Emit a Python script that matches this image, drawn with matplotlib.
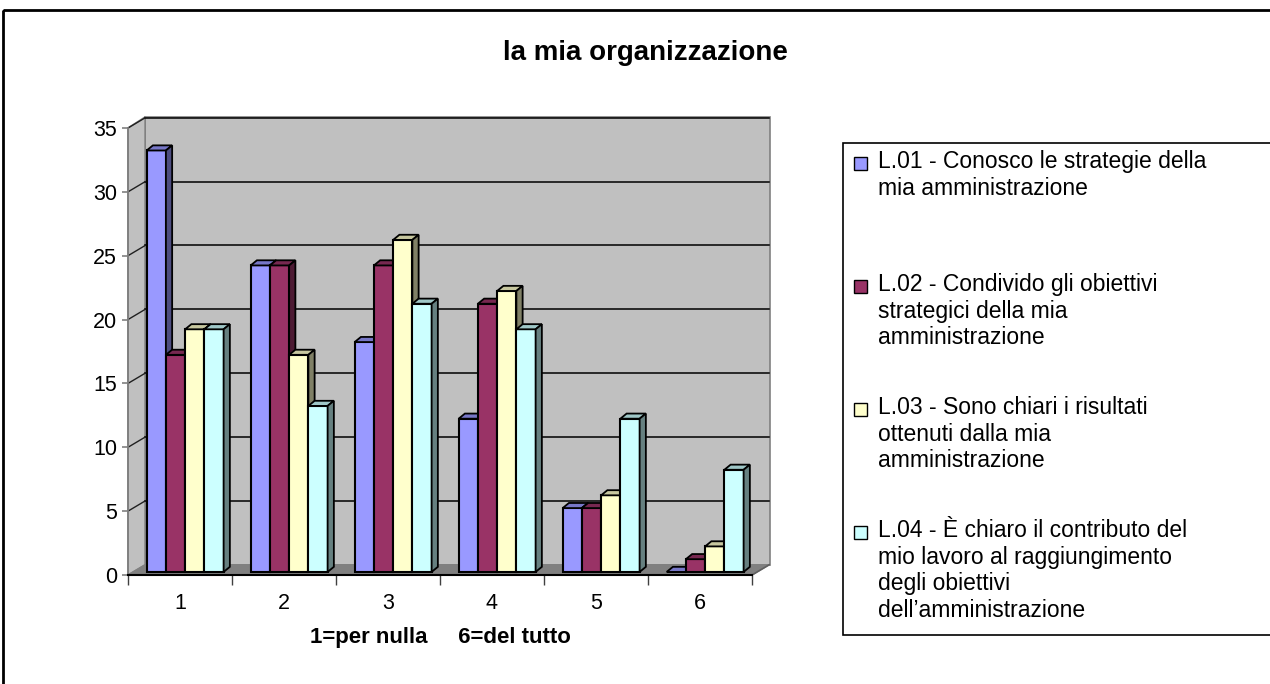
import numpy as np
import matplotlib.pyplot as plt
from matplotlib.patches import Polygon, Rectangle

plt.rcParams['font.family'] = ['Liberation Sans', 'DejaVu Sans']

# --------------------------------------------------
# Data
# --------------------------------------------------
categories = ["1", "2", "3", "4", "5", "6"]
series_names = [
    "L.01 - Conosco le strategie della\nmia amministrazione",
    "L.02 - Condivido gli obiettivi\nstrategici della mia\namministrazione",
    "L.03 - Sono chiari i risultati\nottenuti dalla mia\namministrazione",
    "L.04 - È chiaro il contributo del\nmio lavoro al raggiungimento\ndegli obiettivi\ndell\u2019amministrazione",
]
l01 = [33, 24, 18, 12, 5, 0]
l02 = [17, 24, 24, 21, 5, 1]
l03 = [19, 17, 26, 22, 6, 2]
l04 = [19, 13, 21, 19, 12, 8]
colors = ["#9999ff", "#993366", "#ffffcc", "#ccffff"]

title = "la mia organizzazione"
xlabel = "1=per nulla     6=del tutto"
yticks = list(range(0, 36, 5))

# --------------------------------------------------
# 3D-ish geometry (data units)
# --------------------------------------------------
W, H = 1270, 684
DX, DY = 0.165, 0.80        # wall depth offset
BX, BY = 0.06, 0.40         # bar depth
f = 0.3                      # bar front plane position in depth
bw = 0.185                   # bar width
ymax = 35


def shade(c, k):
    r, g, b = plt.matplotlib.colors.to_rgb(c)
    return (r * k, g * k, b * k)


fig = plt.figure(figsize=(W / 100, H / 100), dpi=100)

# overlay for frame, title, legend (pixel coords)
ov = fig.add_axes([0, 0, 1, 1])
ov.set_xlim(0, W)
ov.set_ylim(H, 0)
ov.axis("off")

ax = fig.add_axes([128 / W, (H - 575) / H, 624 / W, 447 / H])
ax.set_xlim(0, 6)
ax.set_ylim(0, ymax)
ax.set_facecolor("none")

# walls + floor
back = Rectangle((DX, DY), 6 + 0.005, ymax + 0.06, facecolor="#c0c0c0",
                 edgecolor="#808080", lw=1.2, clip_on=False, zorder=0)
ax.add_patch(back)
side = Polygon([(0, 0), (DX, DY), (DX, ymax + DY + 0.06), (0, ymax)],
               closed=True, facecolor="#c0c0c0", edgecolor="#808080",
               lw=1.2, clip_on=False, zorder=0)
ax.add_patch(side)
floor = Polygon([(0, 0), (6, 0), (6 + DX, DY), (DX, DY)], closed=True,
                facecolor="#808080", edgecolor="#808080", lw=1,
                clip_on=False, zorder=0.5)
ax.add_patch(floor)

for v in yticks[1:]:
    ax.plot([DX, 6 + DX], [v + DY, v + DY], color="black", lw=1.1,
            clip_on=False, zorder=0.6)
    ax.plot([0, DX], [v, v + DY], color="#202020", lw=1,
            clip_on=False, zorder=0.6)

# bars
all_series = [l01, l02, l03, l04]
margin = (1 - 4 * bw) / 2
z = 2
for i in range(len(categories)):
    for j, vals in enumerate(all_series):
        x0 = i + margin + j * bw + f * DX
        y0 = f * DY
        h = vals[i]
        c = colors[j]
        ax.bar(x0, h, width=bw, bottom=y0, align="edge", color=c,
               edgecolor="black", lw=1.5, clip_on=False, zorder=z)
        top = [(x0, y0 + h), (x0 + bw, y0 + h),
               (x0 + bw + BX, y0 + h + BY), (x0 + BX, y0 + h + BY)]
        ax.add_patch(Polygon(top, closed=True, facecolor=shade(c, 0.78),
                             edgecolor="black", lw=1.3, clip_on=False,
                             zorder=z + 0.1))
        if h > 0:
            sd = [(x0 + bw, y0), (x0 + bw + BX, y0 + BY),
                  (x0 + bw + BX, y0 + h + BY), (x0 + bw, y0 + h)]
            ax.add_patch(Polygon(sd, closed=True, facecolor=shade(c, 0.5),
                                 edgecolor="black", lw=1.3, clip_on=False,
                                 zorder=z + 0.1))
        z += 1

# axes styling
for s in ["top", "right"]:
    ax.spines[s].set_visible(False)
ax.spines["left"].set_color("#808080")
ax.spines["left"].set_linewidth(1.3)
ax.spines["bottom"].set_color("black")
ax.spines["bottom"].set_linewidth(1.5)
ax.spines["bottom"].set_zorder(100)
ax.plot([6, 6 + DX], [0, DY], color="#606060", lw=1.2, clip_on=False,
        zorder=100)

ax.set_yticks(yticks)
ax.set_yticklabels([str(v) for v in yticks], fontsize=15.5)
ax.tick_params(axis="y", direction="out", length=4, width=1.2, pad=4,
               color="#808080", labelcolor="black")

ax.set_xticks(np.arange(len(categories)) + 0.5)
ax.set_xticklabels(categories, fontsize=15.5)
ax.set_xticks(np.arange(len(categories) + 1), minor=True)
ax.tick_params(axis="x", which="major", length=0, pad=13)
ax.tick_params(axis="x", which="minor", direction="out", length=7, width=1,
               color="#404040")
ax.set_xlabel(xlabel, fontsize=16, fontweight="bold", labelpad=9)

# frame and title
ov.add_patch(Rectangle((3, 10), W + 10, H + 10, fill=False,
                       edgecolor="black", lw=2))
ov.text(645, 53, title, fontsize=20, fontweight="bold", ha="center",
        va="center")

# legend
ov.add_patch(Rectangle((843, 143), 440, 492, facecolor="white",
                       edgecolor="black", lw=1.2))
leg_y = [163, 286, 409, 532]
for j, name in enumerate(series_names):
    ov.add_patch(Rectangle((854, leg_y[j] - 6), 13, 13, facecolor=colors[j],
                           edgecolor="black", lw=1))
    ov.text(878, leg_y[j] - 13, name, fontsize=16.5, ha="left", va="top",
            linespacing=1.2)

fig.savefig("out.png", dpi=100)
